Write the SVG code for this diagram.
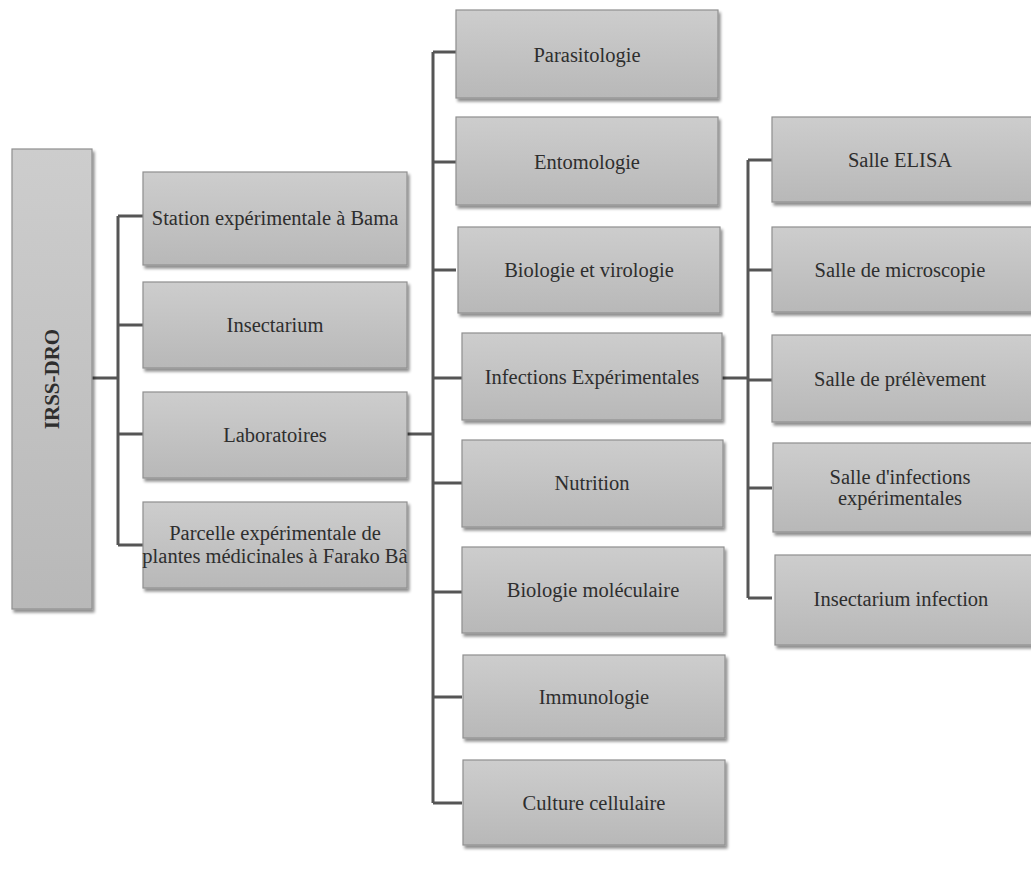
<svg xmlns="http://www.w3.org/2000/svg" width="1031" height="875" viewBox="0 0 1031 875">
<defs>
<linearGradient id="g" x1="0" y1="0" x2="0" y2="1">
<stop offset="0" stop-color="#cdcdcd"/>
<stop offset="1" stop-color="#b8b8b8"/>
</linearGradient>
<filter id="sh" x="-10%" y="-10%" width="130%" height="130%">
<feGaussianBlur in="SourceAlpha" stdDeviation="1.5"/>
<feOffset dx="2" dy="3" result="b"/>
<feComponentTransfer><feFuncA type="linear" slope="0.45"/></feComponentTransfer>
<feMerge><feMergeNode/><feMergeNode in="SourceGraphic"/></feMerge>
</filter>
</defs>
<style>
.box{fill:url(#g);stroke:#8f8f8f;stroke-width:1.2;filter:url(#sh)}
.t{font-family:"Liberation Serif","Times New Roman",serif;font-size:20.5px;fill:#2e2e2e;text-anchor:middle;dominant-baseline:central}
.c{stroke:#555;stroke-width:3;fill:none}
</style>
<rect width="1031" height="875" fill="#fff"/>
<g id="connectors">
<path class="c" d="M92 378H118M118 216V545M118 216H143M118 325H143M118 434H143M118 545H143"/>
<path class="c" d="M407 434H433M433 52V803M433 52H456M433 162H456M433 270H456M433 378H462M433 483H462M433 592H462M433 697H462M433 803H462"/>
<path class="c" d="M722 378H748M748 160V598M748 160H772M748 270H772M748 380H772M748 488H772M748 598H772"/>
</g>
<g id="n-irss"><rect class="box" x="12" y="149" width="80" height="460"/><text class="t" transform="translate(52,379) rotate(-90)" style="font-weight:bold;font-size:21px">IRSS-DRO</text></g>
<g id="n-station"><rect class="box" x="143" y="172" width="264" height="93"/><text class="t" x="275" y="218">Station expérimentale à Bama</text></g>
<g id="n-insectarium"><rect class="box" x="143" y="282" width="264" height="86"/><text class="t" x="275" y="325">Insectarium</text></g>
<g id="n-labo"><rect class="box" x="143" y="392" width="264" height="86"/><text class="t" x="275" y="435">Laboratoires</text></g>
<g id="n-parcelle"><rect class="box" x="143" y="502" width="264" height="86"/><text class="t" x="275" y="533">Parcelle expérimentale de</text><text class="t" x="275" y="556">plantes médicinales à Farako Bâ</text></g>
<g id="n-parasito"><rect class="box" x="456" y="10" width="262" height="88"/><text class="t" x="587" y="55">Parasitologie</text></g>
<g id="n-entomo"><rect class="box" x="456" y="117" width="262" height="88"/><text class="t" x="587" y="162">Entomologie</text></g>
<g id="n-bioviro"><rect class="box" x="458" y="227" width="262" height="86"/><text class="t" x="589" y="270">Biologie et virologie</text></g>
<g id="n-infections"><rect class="box" x="462" y="333" width="260" height="87"/><text class="t" x="592" y="377">Infections Expérimentales</text></g>
<g id="n-nutrition"><rect class="box" x="462" y="440" width="261" height="87"/><text class="t" x="592" y="483">Nutrition</text></g>
<g id="n-biomol"><rect class="box" x="462" y="547" width="262" height="86"/><text class="t" x="593" y="590">Biologie moléculaire</text></g>
<g id="n-immuno"><rect class="box" x="463" y="655" width="262" height="83"/><text class="t" x="594" y="697">Immunologie</text></g>
<g id="n-culture"><rect class="box" x="463" y="760" width="262" height="85"/><text class="t" x="594" y="803">Culture cellulaire</text></g>
<g id="n-elisa"><rect class="box" x="772" y="117" width="262" height="85"/><text class="t" x="900" y="160">Salle ELISA</text></g>
<g id="n-micro"><rect class="box" x="772" y="227" width="262" height="85"/><text class="t" x="900" y="270">Salle de microscopie</text></g>
<g id="n-prelev"><rect class="box" x="772" y="335" width="262" height="87"/><text class="t" x="900" y="379">Salle de prélèvement</text></g>
<g id="n-salleinf"><rect class="box" x="773" y="443" width="262" height="89"/><text class="t" x="900" y="477">Salle d'infections</text><text class="t" x="900" y="498">expérimentales</text></g>
<g id="n-insinf"><rect class="box" x="775" y="555" width="262" height="90"/><text class="t" x="901" y="599">Insectarium infection</text></g>
</svg>
